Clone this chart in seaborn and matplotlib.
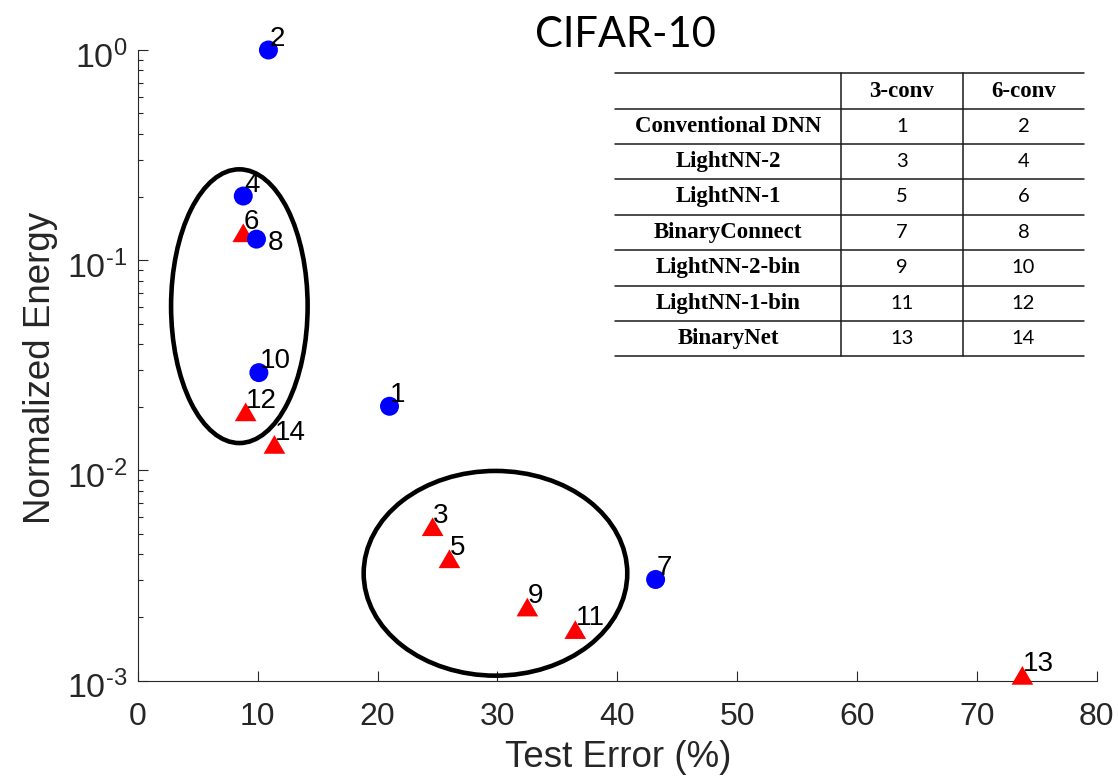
import matplotlib
matplotlib.use("Agg")
import matplotlib.pyplot as plt
import matplotlib.transforms as mtransforms
from matplotlib.lines import Line2D
from matplotlib.patches import Ellipse
from matplotlib.ticker import LogLocator, NullFormatter
import numpy as np
import pandas as pd
import seaborn as sns

# ---------------- data ----------------
point_ids = [1, 2, 3, 4, 5, 6, 7, 8, 9, 10, 11, 12, 13, 14]
test_error = [21.0, 10.9, 24.6, 8.8, 26.0, 8.8, 43.2, 9.9, 32.5, 10.1, 36.5, 9.0, 73.8, 11.4]
norm_energy = [0.0202, 1.0, 0.0054, 0.202, 0.0038, 0.135, 0.00303, 0.126,
               0.00224, 0.0292, 0.00175, 0.0190, 0.00106, 0.0133]
marker_group = ["circle", "circle", "triangle", "circle", "triangle", "triangle", "circle",
                "circle", "triangle", "circle", "triangle", "triangle", "triangle", "triangle"]

x_ticks = [0, 10, 20, 30, 40, 50, 60, 70, 80]
y_ticks = [1e-3, 1e-2, 1e-1, 1e0]
y_tick_labels = [r"$\mathdefault{10^{\text{-}3}}$", r"$\mathdefault{10^{\text{-}2}}$",
                 r"$\mathdefault{10^{\text{-}1}}$", r"$\mathdefault{10^{0}}$"]

table_rows = ["Conventional DNN", "LightNN-2", "LightNN-1", "BinaryConnect",
              "LightNN-2-bin", "LightNN-1-bin", "BinaryNet"]
table_cols = ["3-conv", "6-conv"]
conv3_ids = [1, 3, 5, 7, 9, 11, 13]
conv6_ids = [2, 4, 6, 8, 10, 12, 14]

title_text = "CIFAR-10"
x_label = "Test Error (%)"
y_label = "Normalized Energy"

df = pd.DataFrame({"id": point_ids, "err": test_error, "energy": norm_energy, "group": marker_group})

# ---------------- style ----------------
sns.set_style("white")
plt.rcParams["font.family"] = ["Liberation Sans", "DejaVu Sans"]
plt.rcParams["mathtext.fontset"] = "custom"
plt.rcParams["mathtext.rm"] = "Liberation Sans"
plt.rcParams["axes.unicode_minus"] = False

W, H = 1118, 776
fig = plt.figure(figsize=(W / 100, H / 100), dpi=100)
fig.patch.set_facecolor("white")
ax = fig.add_axes([137.8 / W, 1 - 680.7 / H, 958.9 / W, 630.7 / H])
ax.set_facecolor("white")

axis_col = "#262626"

tri = [(0, 1), (-1.16, -1), (1.16, -1)]
red = df[df.group == "triangle"]
blue = df[df.group == "circle"]
sns.scatterplot(data=red, x="err", y="energy", marker=tri, s=244, color="#FF0000",
                edgecolor="none", linewidth=0, ax=ax, zorder=3, clip_on=False)
sns.scatterplot(data=blue, x="err", y="energy", marker="o", s=187, color="#0000FF",
                edgecolor="none", linewidth=0, ax=ax, zorder=3, clip_on=False)

for pid, xv, yv in zip(point_ids, test_error, norm_energy):
    off = (8.0, -8.0) if pid == 8 else (0.5, 3.0)
    ax.annotate(str(pid), (xv, yv), xytext=off, textcoords="offset points",
                ha="left", va="baseline", fontsize=20, color="black", zorder=4,
                annotation_clip=False)

ax.set_yscale("log")
ax.set_xlim(0, 80)
ax.set_ylim(1e-3, 1)
ax.set_xticks(x_ticks)
ax.set_xticklabels([str(t) for t in x_ticks])
ax.set_yticks(y_ticks)
ax.set_yticklabels(y_tick_labels)
ax.yaxis.set_minor_locator(LogLocator(base=10, subs=np.arange(2, 10)))
ax.yaxis.set_minor_formatter(NullFormatter())

for side in ["top", "right"]:
    ax.spines[side].set_visible(False)
for side in ["left", "bottom"]:
    ax.spines[side].set_color(axis_col)
    ax.spines[side].set_linewidth(0.8)

ax.tick_params(axis="both", which="major", direction="in", length=7.2, width=0.8,
               color=axis_col, labelcolor=axis_col, bottom=True, left=True)
ax.tick_params(axis="x", which="major", pad=15.0, labelsize=23)
ax.tick_params(axis="y", which="major", pad=7.5, labelsize=24.5)
ax.tick_params(axis="y", which="minor", direction="in", length=3.8, width=0.8,
               color=axis_col, left=True)
ax.tick_params(axis="x", which="minor", bottom=False)

# nudge y tick labels down a little (MATLAB-style placement)
shift = mtransforms.ScaledTranslation(0, -4 / 100, fig.dpi_scale_trans)
for lab in ax.get_yticklabels():
    lab.set_transform(lab.get_transform() + shift)

ax.set_xlabel(x_label, fontsize=26.5, color=axis_col)
ax.set_ylabel(y_label, fontsize=26.5, color=axis_col)
ax.xaxis.set_label_coords(0.5008, -0.094)
ax.yaxis.set_label_coords(-0.0832, 0.496)

# ellipses (axes fraction)
for cx, cy, w, h in [(0.1059, 0.5938, 0.1424, 0.434), (0.373, 0.1703, 0.2749, 0.3246)]:
    ax.add_patch(Ellipse((cx, cy), w, h, transform=ax.transAxes, fill=False,
                         edgecolor="black", linewidth=3.3, zorder=2, clip_on=False))

# title
fig.text(625 / W, 1 - 47 / H, title_text, ha="center", va="baseline",
         fontsize=30, family=["Lato", "DejaVu Sans"], color="black")

# table in pixel coords (y downwards)
pix = mtransforms.Affine2D().scale(1 / W, -1 / H).translate(0, 1) + fig.transFigure
line_ys = [73.3, 109, 144, 179, 214.5, 250, 285.5, 321, 355.5]
x_left, x_c1, x_c2, x_right = 615, 841, 963, 1084
tcol = "#1a1a1a"
for yv in line_ys:
    fig.add_artist(Line2D([x_left, x_right], [yv, yv], transform=pix, color=tcol, lw=1.1))
for xv in [x_c1, x_c2]:
    fig.add_artist(Line2D([xv, xv], [line_ys[0], line_ys[-1]], transform=pix, color=tcol, lw=1.1))

col_centers = [(x_left + x_c1) / 2, (x_c1 + x_c2) / 2, (x_c2 + x_right) / 2]
serif_bold = dict(family=["Liberation Serif", "DejaVu Serif"], fontweight="bold", fontsize=16.5)
num_font = dict(family=["Lato", "DejaVu Sans"], fontsize=14.5)
hy = (line_ys[0] + line_ys[1]) / 2
for cname, cxp in zip(table_cols, col_centers[1:]):
    fig.text(cxp, hy, cname, transform=pix, ha="center", va="center", color="black", **serif_bold)
for i, (rname, a, b) in enumerate(zip(table_rows, conv3_ids, conv6_ids)):
    ry = (line_ys[i + 1] + line_ys[i + 2]) / 2
    fig.text(col_centers[0], ry, rname, transform=pix, ha="center", va="center", color="black", **serif_bold)
    fig.text(col_centers[1], ry, str(a), transform=pix, ha="center", va="center", color="black", **num_font)
    fig.text(col_centers[2], ry, str(b), transform=pix, ha="center", va="center", color="black", **num_font)

fig.savefig("out.png", dpi=100, facecolor="white")
